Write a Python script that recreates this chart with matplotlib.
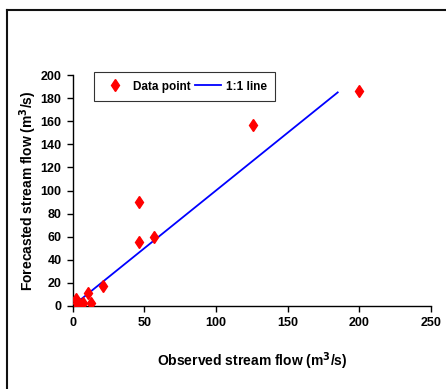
import matplotlib
matplotlib.use('Agg')
import matplotlib.pyplot as plt
from matplotlib.lines import Line2D

plt.rcParams['font.family'] = ['Liberation Sans Narrow', 'Liberation Sans', 'DejaVu Sans']
plt.rcParams['font.weight'] = 'bold'

# observed vs forecasted stream flow (m3/s)
observed = [2.5, 3, 4, 5, 7, 11, 12.5, 21, 46, 46.5, 57, 126, 200]
forecasted = [6, 3, 0, 2, 3, 11.5, 3, 17.5, 55, 90, 60, 157, 186]
line_x = [0, 185]
xticks = [0, 50, 100, 150, 200, 250]
yticks = list(range(0, 201, 20))

fig = plt.figure(figsize=(4.46, 3.89), dpi=100)
ax = fig.add_axes([0.163, 0.2134, 0.803, 0.5936])

ax.plot(line_x, line_x, color='#0000ff', lw=1.3, label='1:1 line', zorder=2)
ax.plot(observed, forecasted, 'd', color='#ff0000', ms=6.5, mec='#ff0000',
        label='Data point', zorder=3)

ax.set_xlim(0, 250)
ax.set_ylim(0, 200)
ax.set_xticks(xticks)
ax.set_yticks(yticks)
ax.spines['top'].set_visible(False)
ax.spines['right'].set_visible(False)
for s in ['left', 'bottom']:
    ax.spines[s].set_linewidth(1.0)
ax.tick_params(direction='out', length=4, width=1, labelsize=9, pad=4)
for lab in ax.get_xticklabels() + ax.get_yticklabels():
    lab.set_fontweight('bold')

ax.set_xlabel('Observed stream flow (m$^3$/s)', fontsize=10, fontweight='bold', labelpad=15)
ax.set_ylabel('Forecasted stream flow (m$^3$/s)', fontsize=10, fontweight='bold', labelpad=1)

handles, labels = ax.get_legend_handles_labels()
leg = ax.legend(handles[::-1], labels[::-1], loc='upper left', ncol=2,
                bbox_to_anchor=(0.06, 1.012), borderaxespad=0, frameon=True,
                fancybox=False, edgecolor='black', fontsize=8.5, handlelength=2.2,
                columnspacing=0.4, handletextpad=0.4, borderpad=0.7)
leg.get_frame().set_linewidth(0.8)
for t in leg.get_texts():
    t.set_fontweight('bold')

# outer frame lines (top and left)
fig.add_artist(Line2D([7 / 446, 1], [1 - 9.5 / 389] * 2, color='#111111', lw=1.5,
                      transform=fig.transFigure))
fig.add_artist(Line2D([7 / 446] * 2, [0, 1 - 9.5 / 389], color='#111111', lw=1.5,
                      transform=fig.transFigure))

fig.savefig('out.png', dpi=100)
